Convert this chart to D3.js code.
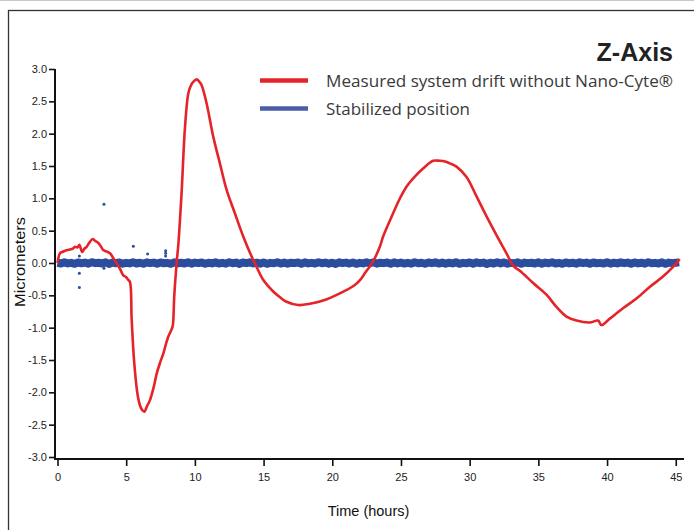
<!DOCTYPE html>
<html><head><meta charset="utf-8">
<script src="https://cdn.jsdelivr.net/npm/d3@7"></script>
<style>
html,body{margin:0;padding:0;background:#fff;}
svg{display:block;}
</style></head>
<body>
<div id="chart"></div>
<script>
// ---- DATA ----
const chartTitle = "Z-Axis";
const seriesNames = ["Measured system drift without Nano-Cyte®", "Stabilized position"];
const xTicks = [0,5,10,15,20,25,30,35,40,45];
const yTicks = [-3,-2.5,-2,-1.5,-1,-0.5,0,0.5,1,1.5,2,2.5,3];

// Red: measured drift (hours, micrometers)
const driftTime = [0,0.18,0.35,0.55,0.9,1.1,1.27,1.45,1.59,1.7,1.8,1.95,2.12,2.3,2.56,2.75,2.97,3.15,3.33,3.55,3.82,4.05,4.3,4.55,4.79,5.0,5.15,5.27,5.4,5.57,5.81,6.0,6.15,6.32,6.5,6.73,7.0,7.22,7.45,7.7,7.9,8.06,8.25,8.38,8.5,8.67,8.8,9.03,9.28,9.52,9.7,9.88,10.13,10.3,10.49,10.85,11.34,11.82,12.31,12.91,13.52,14.13,14.49,14.97,15.7,16.2,16.67,17.52,18.37,19.34,20.55,21.64,22.0,22.37,22.98,23.46,23.7,24.43,24.9,25.4,25.89,26.61,27.34,27.83,28.2,28.56,29.04,29.77,30.5,31.23,31.95,32.68,33.2,33.65,34.62,35.59,36.32,37.05,37.77,38.74,39.35,39.59,40.2,41.16,42.14,43.1,44.07,44.8,45.29];
const driftValue = [0,0.15,0.17,0.19,0.21,0.22,0.25,0.24,0.28,0.22,0.17,0.22,0.25,0.31,0.37,0.34,0.31,0.26,0.2,0.18,0.15,0.08,0.0,-0.09,-0.19,-0.22,-0.26,-0.29,-0.88,-1.5,-2.01,-2.2,-2.27,-2.3,-2.22,-2.12,-1.92,-1.71,-1.55,-1.4,-1.25,-1.14,-1.05,-0.98,-0.5,0.0,0.3,1.08,2.1,2.62,2.74,2.8,2.84,2.81,2.75,2.47,1.95,1.54,1.13,0.77,0.41,0.1,-0.06,-0.26,-0.44,-0.53,-0.6,-0.65,-0.63,-0.58,-0.47,-0.34,-0.27,-0.16,0.03,0.25,0.41,0.77,0.99,1.18,1.31,1.46,1.58,1.58,1.57,1.54,1.49,1.33,1.03,0.72,0.43,0.15,-0.05,-0.12,-0.31,-0.49,-0.68,-0.83,-0.89,-0.92,-0.89,-0.96,-0.86,-0.7,-0.55,-0.37,-0.21,-0.06,0.06];

// Blue: stabilized position, one reading every 0.25 h from 0 h to 45.25 h
const stableStep = 0.25;
const stableValue = [
 0.004,-0.008,0.010,-0.006,0.002,-0.012,0.008,-0.004,0.006,-0.010,0.012,-0.002,0.004,-0.008,
 0.010,-0.014,0.006,-0.004,0.008,-0.010,0.002,-0.006,0.012,-0.008,0.004,-0.012,0.010,-0.002,
 0.006,-0.010,0.008,-0.004,0.002,-0.012,0.010,-0.006,0.004,-0.008,0.012,-0.010,0.006,-0.002,
 0.008,-0.012,0.004,-0.006,0.010,-0.008,0.002,-0.010,0.012,-0.004,0.006,-0.014,0.008,-0.002,
 0.010,-0.006,0.004,-0.010,0.008,-0.012,0.002,-0.004,0.012,-0.008,0.006,-0.010,0.004,-0.002,
 0.008,-0.012,0.010,-0.006,0.002,-0.008,0.012,-0.004,0.006,-0.010,0.004,-0.014,0.010,-0.002,
 0.006,-0.008,0.008,-0.012,0.002,-0.006,0.010,-0.004,0.012,-0.010,0.004,-0.002,0.008,-0.012,
 0.010,-0.006,0.006,-0.008,0.002,-0.010,0.012,-0.004,0.004,-0.012,0.008,-0.002,0.010,-0.008,
 0.006,-0.010,0.004,-0.006,0.012,-0.012,0.002,-0.004,0.008,-0.010,0.010,-0.002,0.006,-0.014,
 0.004,-0.008,0.012,-0.006,0.008,-0.010,0.002,-0.004,0.010,-0.012,0.006,-0.002,0.004,-0.008,
 0.010,-0.010,0.006,-0.004,0.012,-0.008,0.002,-0.012,0.008,-0.006,0.004,-0.010,0.010,-0.002,
 0.006,-0.012,0.008,-0.004,0.002,-0.008,0.012,-0.010,0.004,-0.006,0.010,-0.002,0.006,-0.012,
 0.008,-0.006,0.004,-0.010,0.012,-0.004,0.002,-0.008,0.010,-0.012,0.006,-0.002,0.004,0.010
];
// Blue stray readings (hours, micrometers)
const strayTime = [1.59,1.59,1.59,3.38,3.38,5.52,6.56,7.87,7.87,7.87];
const strayValue = [0.11,-0.16,-0.38,0.91,-0.08,0.26,0.14,0.19,0.15,0.11];

// ---- DRAW ----
const W = 694, H = 530;
const svg = d3.select("#chart").append("svg").attr("width", W).attr("height", H);
const narrow = "'Liberation Sans Narrow','Arial Narrow','Liberation Sans',Arial,sans-serif";
const red = "#e52329", blue = "#2c4c9e", blueLegend = "#4d5ca9";

svg.append("line").attr("x1",0).attr("x2",W).attr("y1",0.5).attr("y2",0.5).attr("stroke","#c8c8c8");
svg.append("rect").attr("x",8.5).attr("y",10.5).attr("width",720).attr("height",560)
  .attr("fill","none").attr("stroke","#333").attr("stroke-width",1.3);

const x = d3.scaleLinear().domain([0,45.6]).range([57.5,684]);
const y = d3.scaleLinear().domain([-3,3]).range([457,69]);

// axes
const yAxis = svg.append("g").attr("transform","translate(55,0)")
  .call(d3.axisLeft(y).tickValues(yTicks).tickSize(6).tickSizeOuter(0).tickFormat(d=>d.toFixed(1)));
const xAxis = svg.append("g").attr("transform","translate(0,459)")
  .call(d3.axisBottom(x).tickValues(xTicks).tickSize(7).tickSizeOuter(0).tickFormat(d=>String(d)));
[yAxis,xAxis].forEach(g=>{
  g.selectAll("path.domain").attr("stroke","#111").attr("stroke-width",2);
  g.selectAll(".tick line").attr("stroke","#111").attr("stroke-width",1.6);
  g.selectAll(".tick text").attr("font-family",narrow).attr("font-size",11).attr("fill","#222");
});
xAxis.select("path.domain").attr("d","M55,0H684");
yAxis.select("path.domain").attr("d","M0,69V460");
yAxis.selectAll(".tick text").attr("x",-8);
xAxis.selectAll(".tick text").attr("y",14);

// blue band
const stablePts = stableValue.map((v,i)=>[i*stableStep, v]);
svg.append("path").datum(stablePts)
  .attr("d", d3.line().x(d=>x(d[0])).y(d=>y(d[1])))
  .attr("fill","none").attr("stroke",blue).attr("stroke-width",8).attr("stroke-linejoin","round");
svg.append("g").selectAll("circle").data(strayTime.map((t,i)=>[t,strayValue[i]])).join("circle")
  .attr("cx",d=>x(d[0])).attr("cy",d=>y(d[1])).attr("r",1.5).attr("fill",blue);

// red drift line
const driftPts = driftTime.map((t,i)=>[t, driftValue[i]]);
svg.append("path").datum(driftPts)
  .attr("d", d3.line().x(d=>x(d[0])).y(d=>y(d[1])).curve(d3.curveCatmullRom.alpha(0.5)))
  .attr("fill","none").attr("stroke",red).attr("stroke-width",2.6).attr("stroke-linejoin","round");

// title & legend
svg.append("text").attr("x",673).attr("y",61).attr("text-anchor","end")
  .attr("font-family",narrow).attr("font-weight","bold").attr("font-size",25).attr("fill","#222").text(chartTitle);
const legendColors = [red, blueLegend];
const legendY = [80.5, 108.5];
const textWidths = [347, 144];
seriesNames.forEach((name,i)=>{
  svg.append("line").attr("x1",260).attr("x2",308).attr("y1",legendY[i]).attr("y2",legendY[i])
    .attr("stroke",legendColors[i]).attr("stroke-width",4.5);
  svg.append("text").attr("x",326).attr("y",legendY[i]+6)
    .attr("font-family","'Open Sans','Noto Sans',sans-serif").attr("font-size",17).attr("fill","#3a3a3a")
    .attr("textLength",textWidths[i]).attr("lengthAdjust","spacingAndGlyphs").text(name);
});

// axis titles
svg.append("text").attr("transform","translate(25,262) rotate(-90)").attr("text-anchor","middle")
  .attr("font-family","'Liberation Sans',Arial,sans-serif").attr("font-size",14.5).attr("fill","#111")
  .attr("textLength",90).attr("lengthAdjust","spacingAndGlyphs")
  .text("Micrometers");
svg.append("text").attr("x",368.5).attr("y",516).attr("text-anchor","middle")
  .attr("font-family",narrow).attr("font-size",14.5).attr("fill","#111").text("Time (hours)");
</script>
</body></html>
